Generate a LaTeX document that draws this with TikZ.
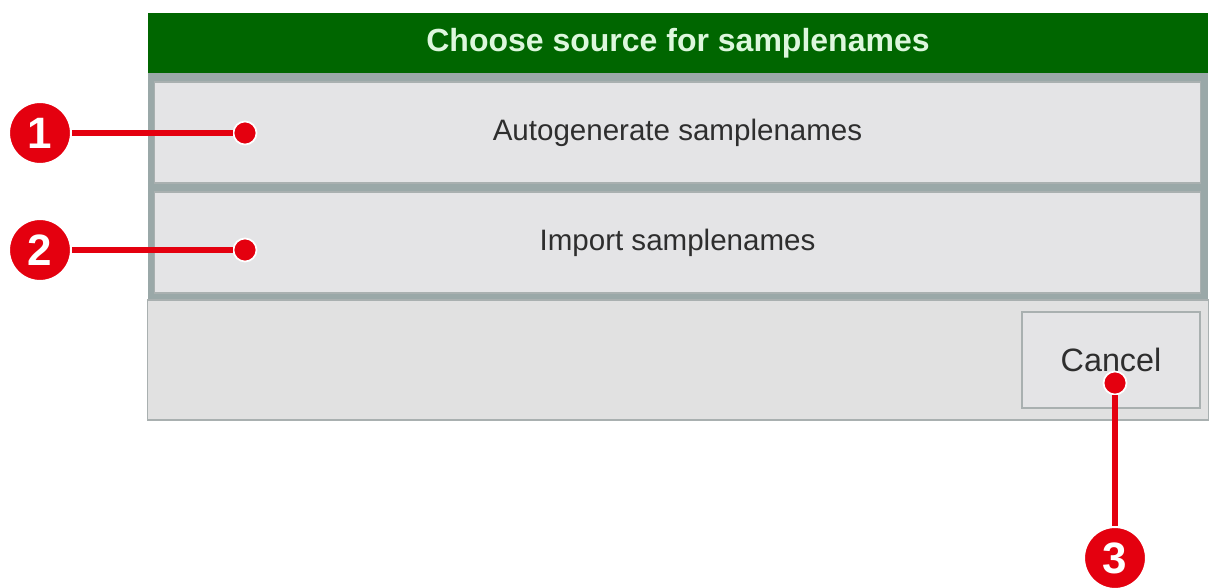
\documentclass[tikz,border=0pt]{standalone}
\usepackage{fontspec}
\setmainfont{Liberation Sans}
\usepackage{tikz}
\usetikzlibrary{positioning, calc}

\definecolor{hdrgreen}{HTML}{006600}
\definecolor{hdrtext}{HTML}{DDF7DD}
\definecolor{framegray}{HTML}{9AA8A8}
\definecolor{btnfill}{HTML}{E4E4E6}
\definecolor{panelfill}{HTML}{E1E1E1}
\definecolor{btnedge}{HTML}{A9B0B0}
\definecolor{labeltext}{HTML}{2E2E2E}
\definecolor{markred}{HTML}{E4000F}

\begin{document}
\begin{tikzpicture}[
  x=0.01cm, y=-0.01cm,
  every node/.style={align=center},
  header/.style={rectangle, fill=hdrgreen, text=hdrtext, inner sep=0pt,
                 font=\fontsize{9.1}{11}\selectfont\bfseries,
                 minimum width=10.6cm, minimum height=0.59cm},
  frame/.style={rectangle, fill=framegray, inner sep=0pt,
                minimum width=10.6cm, minimum height=2.28cm},
  panel/.style={rectangle, fill=panelfill, draw=btnedge, inner sep=0pt,
                minimum width=10.6cm, minimum height=1.2cm},
  button/.style={rectangle, fill=btnfill, draw=btnedge, inner sep=0pt,
                 text=labeltext, font=\fontsize{8.4}{10}\selectfont,
                 minimum width=10.45cm, minimum height=1.01cm},
  cancelbtn/.style={button, font=\fontsize{9.2}{11}\selectfont,
                    minimum width=1.78cm, minimum height=0.96cm},
  marker/.style={circle, fill=markred, draw=white, line width=0.6pt,
                 text=white, inner sep=0pt, minimum size=0.62cm,
                 font=\fontsize{12.5}{14}\selectfont\bfseries},
  dot/.style={circle, fill=markred, draw=white, line width=0.5pt,
              inner sep=0pt, minimum size=0.23cm},
  leader/.style={draw=markred, line width=1.9pt}
]
\useasboundingbox (0,0) rectangle (1209,588);

% --- Dialog ---
\node[frame] (frame) at (678,186) {};
\node[header] (title) at (678,43) {Choose source for samplenames};
\node[button] (autogen) at (677.5,132.5) {Autogenerate samplenames};
\node[button] (import) at (677.5,242.5) {Import samplenames};
\node[panel] (panel) at (678,360) {};
\node[cancelbtn] (cancel) at (1111,360) {Cancel};

% --- Callouts ---
\node[dot] (d1) at (245,133) {};
\node[dot] (d2) at (245,250) {};
\node[dot] (d3) at (1115,383) {};
\node[marker] (m1) at (40,133) {1};
\node[marker] (m2) at (40,250) {2};
\node[marker] (m3) at (1115,558) {3};

\draw[leader] (m1) -- (d1);
\draw[leader] (m2) -- (d2);
\draw[leader] (d3) -- (m3);

\end{tikzpicture}
\end{document}
